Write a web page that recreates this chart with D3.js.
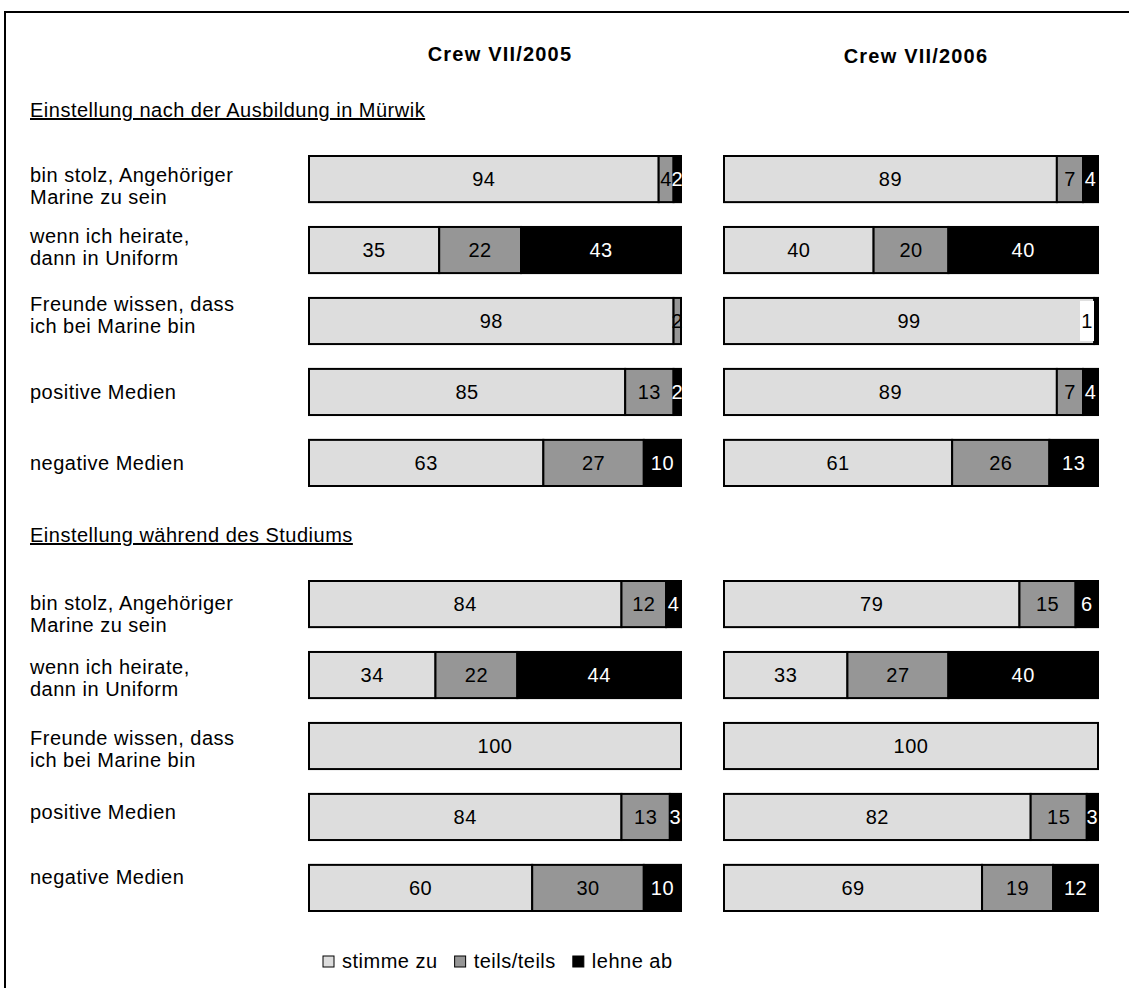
<!DOCTYPE html>
<html>
<head>
<meta charset="utf-8">
<script src="https://cdn.jsdelivr.net/npm/d3@7"></script>
<style>
  body { margin: 0; background: #fff; }
  svg text { font-family: "Liberation Sans", Arial, sans-serif; font-size: 20px; letter-spacing: 0.5px; }
</style>
</head>
<body>
<svg width="1129" height="988"></svg>
<script>
var crews = ['Crew VII/2005', 'Crew VII/2006'];
var sections = ['Einstellung nach der Ausbildung in Mürwik', 'Einstellung während des Studiums'];
var items = [
    ['bin stolz, Angehöriger', 'Marine zu sein'],
    ['wenn ich heirate,', 'dann in Uniform'],
    ['Freunde wissen, dass', 'ich bei Marine bin'],
    ['positive Medien'],
    ['negative Medien']
];
var categories = ['stimme zu', 'teils/teils', 'lehne ab'];
var colors = ['#dddddd', '#969696', '#000000'];

// [stimme zu, teils/teils, lehne ab] per item
var muerwik2005 = [[94, 4, 2], [35, 22, 43], [98, 2, 0], [85, 13, 2], [63, 27, 10]];
var muerwik2006 = [[89, 7, 4], [40, 20, 40], [99, 0, 1], [89, 7, 4], [61, 26, 13]];
var studium2005 = [[84, 12, 4], [34, 22, 44], [100, 0, 0], [84, 13, 3], [60, 30, 10]];
var studium2006 = [[79, 15, 6], [33, 27, 40], [100, 0, 0], [82, 15, 3], [69, 19, 12]];
var tables = [[muerwik2005, muerwik2006], [studium2005, studium2006]];
// labels excel drew on a white box (section, crew, item, category)
var boxedLabels = ['0-1-2-2'];
// row labels in the original don't sit exactly on the bar centre
var labelShift = [[7, -3, -6, 0, 0], [10, 3, 3, -5, -11]];

var svg = d3.select('svg');

svg.append('rect')
    .attr('x', 5).attr('y', 12)
    .attr('width', 1300).attr('height', 1100)
    .attr('fill', 'none').attr('stroke', '#000').attr('stroke-width', 2);

var xs = [
    d3.scaleLinear().domain([0, 100]).range([309, 681]),
    d3.scaleLinear().domain([0, 100]).range([724, 1098])
];
var y = d3.scaleBand().domain(d3.range(items.length)).range([156, 486]).paddingInner(0.35);
var sectionOffset = [0, 425];

crews.forEach(function (c, i) {
    var r = xs[i].range();
    svg.append('text')
        .attr('x', (r[0] + r[1]) / 2 + 5)
        .attr('y', 61 + i * 2)
        .attr('text-anchor', 'middle')
        .style('font-weight', 'bold')
        .style('letter-spacing', '1.2px')
        .text(c);
});

sections.forEach(function (s, si) {
    var off = sectionOffset[si];
    svg.append('text')
        .attr('x', 30).attr('y', 117 + off)
        .style('text-decoration', 'underline')
        .text(s);

    items.forEach(function (lines, ii) {
        var cy = y(ii) + y.bandwidth() / 2 + off + labelShift[si][ii];
        var t = svg.append('text').attr('x', 30);
        lines.forEach(function (l, li) {
            t.append('tspan')
                .attr('x', 30)
                .attr('y', cy + 7 + (li - (lines.length - 1) / 2) * 21.5)
                .text(l);
        });
    });

    tables[si].forEach(function (rows, ci) {
        var x = xs[ci];
        rows.forEach(function (vals, ii) {
            var top = y(ii) + off;
            var h = y.bandwidth();
            var segs = [];
            var acc = 0;
            vals.forEach(function (v, k) {
                segs.push({ k: k, v: v, x0: acc, x1: acc + v });
                acc += v;
            });
            segs = segs.filter(function (d) { return d.v > 0; });

            var g = svg.append('g');
            g.selectAll('rect')
                .data(segs)
                .enter()
                .append('rect')
                .attr('x', function (d) { return x(d.x0); })
                .attr('y', top)
                .attr('width', function (d) { return x(d.x1) - x(d.x0); })
                .attr('height', h)
                .attr('fill', function (d) { return colors[d.k]; })
                .attr('stroke', '#000')
                .attr('stroke-width', 2);

            segs.forEach(function (d) {
                var boxed = boxedLabels.indexOf(si + '-' + ci + '-' + ii + '-' + d.k) >= 0;
                var tx = boxed ? x(100) - 11 : x((d.x0 + d.x1) / 2);
                var ty = top + h / 2 + 7;
                if (boxed) {
                    g.append('rect')
                        .attr('x', tx - 7).attr('y', top + 3)
                        .attr('width', 14).attr('height', h - 6)
                        .attr('fill', '#fff');
                }
                g.append('text')
                    .attr('x', tx)
                    .attr('y', ty)
                    .attr('text-anchor', 'middle')
                    .attr('fill', (d.k === 2 && !boxed) ? '#fff' : '#000')
                    .text(d.v);
            });
        });
    });
});

// legend
var lx = 323;
var ly = 956;
var legend = svg.append('g');
categories.forEach(function (c, i) {
    legend.append('rect')
        .attr('x', lx).attr('y', ly)
        .attr('width', 11).attr('height', 11)
        .attr('fill', colors[i])
        .attr('stroke', '#000').attr('stroke-width', 1);
    var t = legend.append('text')
        .attr('x', lx + 19)
        .attr('y', ly + 12)
        .text(c);
    lx += 19 + t.node().getComputedTextLength() + 17;
});
</script>
</body>
</html>
